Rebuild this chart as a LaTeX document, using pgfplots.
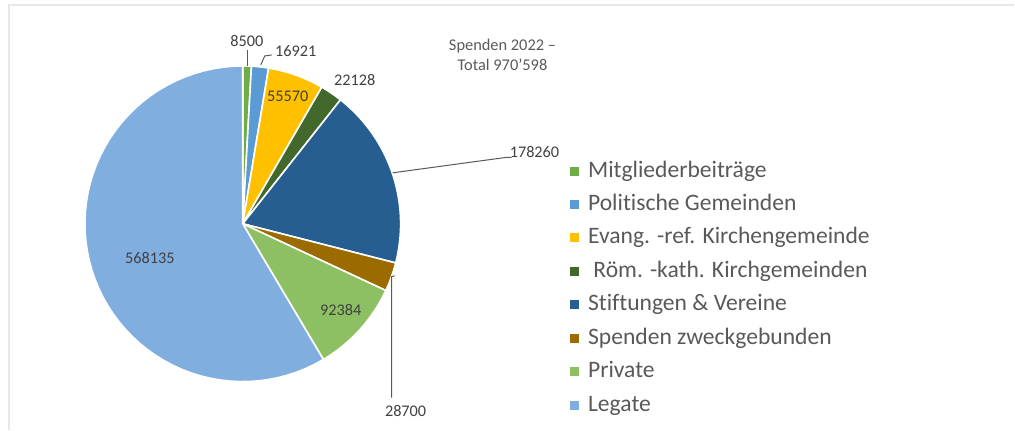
\documentclass[border=0pt]{standalone}
\usepackage{pgfplots}
\pgfplotsset{compat=1.18}
\usepackage{fontspec}
\setmainfont[Ligatures=NoCommon]{Carlito}
\definecolor{cA}{HTML}{70AD47}
\definecolor{cB}{HTML}{5B9BD5}
\definecolor{cC}{HTML}{FFC000}
\definecolor{cD}{HTML}{43682B}
\definecolor{cE}{HTML}{265E92}
\definecolor{cF}{HTML}{9C6B00}
\definecolor{cG}{HTML}{8DC062}
\definecolor{cH}{HTML}{7FAEDF}
\definecolor{txt}{HTML}{404040}
\definecolor{lg}{HTML}{595959}
\definecolor{frame}{HTML}{E8E8E8}
% values
\def\vA{8500}
\def\vB{16921}
\def\vC{55570}
\def\vD{22128}
\def\vE{178260}
\def\vF{28700}
\def\vG{92384}
\def\vH{568135}
\edef\total{\fpeval{\vA+\vB+\vC+\vD+\vE+\vF+\vG+\vH}}
\edef\aA{90}
\edef\aB{\fpeval{round(\aA-360*\vA/\total,4)}}
\edef\aC{\fpeval{round(\aB-360*\vB/\total,4)}}
\edef\aD{\fpeval{round(\aC-360*\vC/\total,4)}}
\edef\aE{\fpeval{round(\aD-360*\vD/\total,4)}}
\edef\aF{\fpeval{round(\aE-360*\vE/\total,4)}}
\edef\aG{\fpeval{round(\aF-360*\vF/\total,4)}}
\edef\aH{\fpeval{round(\aG-360*\vG/\total,4)}}
\edef\aI{\fpeval{round(\aH-360*\vH/\total,4)}}
\def\cx{243}\def\cy{224}\def\rr{158}
\newcommand\lblfont{\fontsize{12.2}{14}\selectfont}
\begin{document}
\begin{tikzpicture}
\begin{axis}[
  scale only axis, width=761.25pt, height=322.5pt,
  xmin=0, xmax=1015, ymin=0, ymax=430, y dir=reverse,
  enlargelimits=false, hide axis, clip=false,
  legend cell align=left,
  legend image code/.code={\fill[#1,draw=none] (0pt,-3.4pt) rectangle (6.8pt,3.4pt);},
  legend style={at={(axis cs:566,157)}, anchor=north west, draw=none, fill=none,
    font=\fontsize{17.7}{21}\selectfont, text=lg, row sep=8.1pt, column sep=7pt,
    nodes={inner sep=0pt, text height=13pt, text depth=4pt}},
  every axis plot/.append style={draw=white, line width=1.2pt, samples=60, variable=\t},
]
\path (axis cs:0,0) rectangle (axis cs:1015,430);
\addplot[fill=cA, domain=\aB:\aA] ({\cx+\rr*cos(\t)},{\cy-\rr*sin(\t)}) -- (axis cs:\cx,\cy) -- cycle;
\addlegendentry{Mitgliederbeiträge}
\addplot[fill=cB, domain=\aC:\aB] ({\cx+\rr*cos(\t)},{\cy-\rr*sin(\t)}) -- (axis cs:\cx,\cy) -- cycle;
\addlegendentry{Politische Gemeinden}
\addplot[fill=cC, domain=\aD:\aC] ({\cx+\rr*cos(\t)},{\cy-\rr*sin(\t)}) -- (axis cs:\cx,\cy) -- cycle;
\addlegendentry{Evang. -ref. Kirchengemeinde}
\addplot[fill=cD, domain=\aE:\aD] ({\cx+\rr*cos(\t)},{\cy-\rr*sin(\t)}) -- (axis cs:\cx,\cy) -- cycle;
\addlegendentry{\hspace{4pt}Röm. -kath. Kirchgemeinden}
\addplot[fill=cE, domain=\aF:\aE] ({\cx+\rr*cos(\t)},{\cy-\rr*sin(\t)}) -- (axis cs:\cx,\cy) -- cycle;
\addlegendentry{Stiftungen \& Vereine}
\addplot[fill=cF, domain=\aG:\aF] ({\cx+\rr*cos(\t)},{\cy-\rr*sin(\t)}) -- (axis cs:\cx,\cy) -- cycle;
\addlegendentry{Spenden zweckgebunden}
\addplot[fill=cG, domain=\aH:\aG] ({\cx+\rr*cos(\t)},{\cy-\rr*sin(\t)}) -- (axis cs:\cx,\cy) -- cycle;
\addlegendentry{Private}
\addplot[fill=cH, domain=\aI:\aH] ({\cx+\rr*cos(\t)},{\cy-\rr*sin(\t)}) -- (axis cs:\cx,\cy) -- cycle;
\addlegendentry{Legate}
% frame
\draw[frame, line width=1.5pt] (axis cs:9,430) -- (axis cs:9,5) -- (axis cs:1015,5);
% leader lines
\draw[lg, line width=0.75pt] (axis cs:247.5,50) -- (axis cs:247.5,66);
\draw[lg, line width=0.75pt] (axis cs:261,65) -- (axis cs:265,56) -- (axis cs:272,55);
\draw[lg, line width=0.75pt] (axis cs:393,173) -- (axis cs:507,157.5) -- (axis cs:512,157.5);
\draw[lg, line width=0.75pt] (axis cs:395,276) -- (axis cs:392,277) -- (axis cs:392,398);
% data labels
\node[txt, font=\lblfont] at (axis cs:247,41) {8500};
\node[txt, font=\lblfont] at (axis cs:296,51) {16921};
\node[txt, font=\lblfont] at (axis cs:288,96) {55570};
\node[txt, font=\lblfont] at (axis cs:355,80) {22128};
\node[txt, font=\lblfont] at (axis cs:535,152) {178260};
\node[txt, font=\lblfont] at (axis cs:341,310) {92384};
\node[txt, font=\lblfont] at (axis cs:406,411) {28700};
\node[txt, font=\lblfont] at (axis cs:150,258) {568135};
% title
\node[lg, align=center, font=\fontsize{12.3}{14.6}\selectfont] at (axis cs:503,55) {Spenden 2022 –\\Total 970’598};
\end{axis}
\end{tikzpicture}
\end{document}
